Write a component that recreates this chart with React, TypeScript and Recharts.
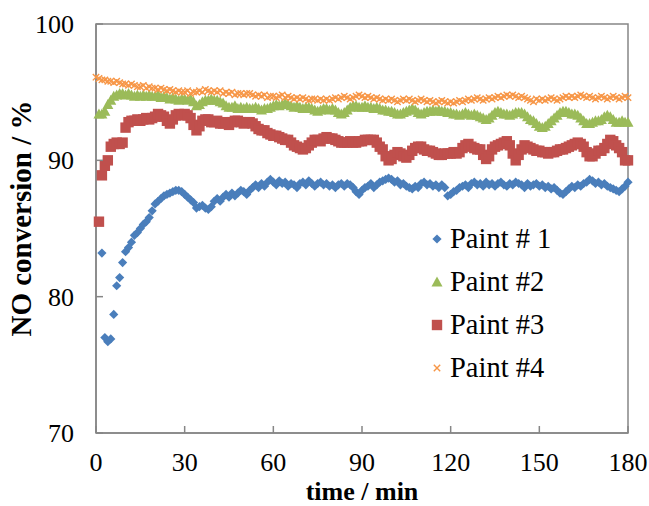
import React from "react";
import { ScatterChart, Scatter, XAxis, YAxis, ReferenceArea, Label } from "recharts";

// NO conversion (%) sampled once per minute, t = 0 .. 180; null = no reading
const paint1 = [
  null, null, 83.2, 77.0, 76.7, 76.9, 78.7, 80.8, 81.4, 82.5,
  83.3, 83.6, 84.0, 84.5, 84.7, 85.0, 85.3, 85.5, 85.8, 86.3,
  86.8, 87.0, 87.2, 87.4, 87.5, 87.6, 87.7, 87.8, 87.8, 87.7,
  87.5, 87.3, 87.1, 86.9, 86.5, 86.6, 86.7, 86.5, 86.4, 86.6,
  87.0, 87.2, 87.0, 87.3, 87.5, 87.3, 87.6, 87.4, 87.6, 87.8,
  87.7, 87.5, 87.8, 88.0, 88.2, 88.0, 88.3, 88.1, 88.4, 88.6,
  88.4, 88.2, 88.5, 88.3, 88.4, 88.1, 88.3, 88.2, 88.0, 88.3,
  88.4, 88.2, 88.5, 88.3, 88.1, 88.3, 88.4, 88.2, 88.3, 88.1,
  88.2, 88.0, 88.2, 88.3, 88.1, 88.3, 88.2, 88.0, 87.7, 87.5,
  87.8, 88.0, 88.1, 88.3, 88.0, 88.2, 88.4, 88.5, 88.6, 88.7,
  88.6, 88.4, 88.5, 88.2, 88.3, 88.1, 88.0, 87.9, 88.1, 88.0,
  88.3, 88.4, 88.2, 88.3, 88.1, 88.2, 88.0, 88.2, 88.0, 87.4,
  87.5, 87.7, 87.8, 88.0, 88.1, 88.2, 88.0, 88.3, 88.4, 88.2,
  88.3, 88.1, 88.4, 88.2, 88.3, 88.1, 88.3, 88.4, 88.2, 88.1,
  88.3, 88.2, 88.4, 88.3, 88.2, 88.0, 88.3, 88.1, 88.2, 88.3,
  88.1, 88.2, 88.0, 88.1, 87.9, 88.0, 87.8, 87.6, 87.5, 87.7,
  87.9, 88.1, 88.0, 88.2, 88.1, 88.3, 88.4, 88.6, 88.5, 88.3,
  88.4, 88.2, 88.3, 88.1, 88.0, 87.9, 87.8, 87.7, 87.9, 88.1,
  88.4,
];

const paint2 = [
  null, 93.4, 93.4, 93.6, 94.1, 94.4, 94.7, 94.8, 94.9, 94.9,
  94.8, 94.9, 94.8, 94.7, 94.8, 94.7, 94.8, 94.7, 94.8, 94.7,
  94.7, 94.8, 94.6, 94.7, 94.6, 94.5, 94.6, 94.5, 94.4, 94.5,
  94.5, 94.4, 94.5, 94.3, 94.0, 94.1, 94.3, 94.4, 94.4, 94.5,
  94.4, 94.4, 94.3, 94.2, 94.0, 93.9, 93.9, 94.0, 93.8, 93.9,
  93.8, 93.9, 93.8, 93.8, 93.9, 93.8, 93.7, 93.8, 93.8, 93.9,
  94.0, 94.1, 94.0, 94.1, 94.2, 94.1, 94.0, 93.9, 94.0, 93.9,
  93.8, 93.9, 93.9, 93.8, 93.7, 93.6, 93.7, 93.8, 93.8, 93.7,
  93.8, 93.7, 93.5, 93.4, 93.5, 93.7, 93.9, 94.0, 94.0, 93.9,
  93.9, 94.0, 93.9, 93.9, 93.8, 93.9, 93.8, 93.7, 93.7, 93.6,
  93.6, 93.5, 93.4, 93.4, 93.5, 93.6, 93.7, 93.8, 93.7, 93.5,
  93.4, 93.5, 93.6, 93.6, 93.7, 93.6, 93.7, 93.6, 93.6, 93.5,
  93.5, 93.4, 93.4, 93.3, 93.4, 93.5, 93.4, 93.3, 93.4, 93.3,
  93.2, 93.1, 93.0, 93.1, 93.3, 93.5, 93.6, 93.5, 93.4, 93.4,
  93.3, 93.4, 93.5, 93.5, 93.5, 93.4, 93.2, 93.0, 92.9, 92.7,
  92.5, 92.4, 92.5, 92.7, 92.9, 93.1, 93.3, 93.5, 93.6, 93.6,
  93.5, 93.4, 93.4, 93.3, 93.1, 92.9, 92.7, 92.7, 92.8, 92.9,
  92.9, 93.0, 93.2, 93.3, 93.2, 93.0, 92.8, 92.8, 92.9, 92.8,
  92.8,
];

const paint3 = [
  null, 85.5, 88.9, 89.6, 90.0, 91.0, 91.2, 91.3, 91.2, 91.3,
  92.4, 92.8, 92.9, 92.9, 93.0, 92.9, 93.0, 93.1, 93.0, 93.1,
  93.2, 93.4, 93.3, 93.2, 92.9, 92.7, 93.0, 93.3, 93.4, 93.3,
  93.4, 93.3, 93.1, 92.6, 92.2, 92.5, 92.9, 93.0, 93.0, 92.8,
  92.8, 92.9, 92.7, 92.7, 92.8, 92.6, 92.8, 92.9, 92.9, 92.8,
  92.7, 92.8, 92.8, 92.7, 92.5, 92.3, 92.2, 92.2, 92.0, 91.9,
  91.8, 91.8, 91.7, 91.6, 91.5, 91.5, 91.3, 91.1, 91.0, 90.9,
  90.8, 90.9, 91.1, 91.3, 91.5, 91.5, 91.4, 91.6, 91.7, 91.6,
  91.6, 91.5, 91.4, 91.3, 91.3, 91.3, 91.4, 91.3, 91.3, 91.4,
  91.4, 91.5, 91.5, 91.5, 91.5, 91.3, 91.0, 90.8, 90.3, 90.0,
  90.1, 90.4, 90.6, 90.5, 90.3, 90.2, 90.4, 90.7, 90.9, 91.0,
  91.0, 90.8, 90.7, 90.7, 90.6, 90.5, 90.4, 90.4, 90.5, 90.5,
  90.5, 90.6, 90.5, 90.6, 90.9, 91.1, 91.2, 91.0, 90.9, 90.8,
  90.8, 90.4, 90.1, 90.3, 90.8, 91.0, 91.1, 91.2, 91.3, 91.4,
  91.1, 90.5, 90.0, 90.4, 90.8, 91.1, 91.0, 90.9, 90.8, 90.7,
  90.7, 90.6, 90.6, 90.5, 90.6, 90.6, 90.7, 90.8, 90.8, 90.9,
  91.0, 91.1, 91.2, 91.3, 91.2, 91.0, 90.6, 90.3, 90.3, 90.5,
  90.7, 90.7, 90.9, 91.2, 91.5, 91.4, 91.1, 90.9, 90.6, 90.0,
  90.0,
];

const paint4 = [
  96.1, 96.0, 95.9, 95.9, 95.8, 95.8, 95.7, 95.8, 95.7, 95.6,
  95.6, 95.5, 95.6, 95.5, 95.4, 95.4, 95.5, 95.3, 95.4, 95.3,
  95.3, 95.2, 95.3, 95.2, 95.1, 95.2, 95.1, 95.0, 95.1, 95.0,
  95.0, 95.1, 94.9, 95.0, 95.0, 95.1, 95.0, 95.2, 95.1, 95.0,
  95.1, 95.0, 95.1, 94.9, 95.0, 94.9, 95.0, 94.8, 94.9, 94.9,
  94.8, 94.9, 94.9, 94.8, 94.7, 94.8, 94.7, 94.8, 94.6, 94.7,
  94.7, 94.6, 94.7, 94.8, 94.6, 94.7, 94.6, 94.5, 94.6, 94.5,
  94.6, 94.5, 94.4, 94.5, 94.5, 94.4, 94.5, 94.4, 94.5, 94.4,
  94.5, 94.6, 94.5, 94.6, 94.7, 94.6, 94.5, 94.6, 94.7, 94.8,
  94.7, 94.6, 94.7, 94.6, 94.5, 94.6, 94.5, 94.4, 94.5, 94.4,
  94.5, 94.4, 94.3, 94.4, 94.5, 94.4, 94.5, 94.4, 94.3, 94.4,
  94.5, 94.4, 94.3, 94.4, 94.3, 94.2, 94.3, 94.4, 94.3, 94.2,
  94.3, 94.2, 94.3, 94.4, 94.3, 94.4, 94.5, 94.4, 94.5, 94.6,
  94.5, 94.4, 94.5, 94.6, 94.5, 94.6, 94.7, 94.6, 94.7, 94.8,
  94.7, 94.8, 94.7, 94.6, 94.7, 94.6, 94.5, 94.4, 94.3, 94.5,
  94.4, 94.5, 94.4, 94.5, 94.6, 94.5, 94.4, 94.5, 94.6, 94.7,
  94.6, 94.7, 94.6, 94.7, 94.8, 94.7, 94.6, 94.7, 94.6, 94.5,
  94.6, 94.7, 94.6, 94.5, 94.6, 94.7, 94.6, 94.5, 94.6, 94.7,
  94.6,
];

const STEP_MIN = 1;
const xTicks = [0, 30, 60, 90, 120, 150, 180];
const yTicks = [70, 80, 90, 100];
const seriesNames = ["Paint # 1", "Paint #2", "Paint #3", "Paint #4"];
const seriesColors = ["#4a7ebb", "#9bbb59", "#c0504d", "#f79646"];

const FONT = "'Liberation Serif', 'Times New Roman', serif";
const AXIS = "#868686";

const toRows = (vals: (number | null)[]) =>
  vals
    .map((v, i) => ({ t: i * STEP_MIN, v }))
    .filter((r) => r.v !== null);

function Diamond({ cx, cy, fill }: any) {
  const r = 4.6;
  return <polygon points={`${cx},${cy - r} ${cx + r},${cy} ${cx},${cy + r} ${cx - r},${cy}`} fill={fill} />;
}
function Triangle({ cx, cy, fill }: any) {
  return <polygon points={`${cx},${cy - 5.5} ${cx + 5.5},${cy + 4.5} ${cx - 5.5},${cy + 4.5}`} fill={fill} />;
}
function Square({ cx, cy, fill }: any) {
  return <rect x={cx - 5.2} y={cy - 5.2} width={10.4} height={10.4} fill={fill} />;
}
function Cross({ cx, cy, fill }: any) {
  const r = 3.2;
  return (
    <path
      d={`M${cx - r},${cy - r}L${cx + r},${cy + r}M${cx - r},${cy + r}L${cx + r},${cy - r}`}
      stroke={fill}
      strokeWidth={1.4}
    />
  );
}
const shapes = [Diamond, Triangle, Square, Cross];

const X_GAP = 38; // axis line to tick label baseline
const Y_GAP = 22; // axis line to tick label right edge

function XTick({ x, y, payload }: any) {
  const axisY = y - X_GAP;
  return (
    <g>
      <line x1={x} x2={x} y1={axisY} y2={axisY - 7} stroke={AXIS} strokeWidth={1.5} />
      <text x={x} y={y} textAnchor="middle" fontFamily={FONT} fontSize={26} fill="#000">
        {payload.value}
      </text>
    </g>
  );
}

function YTick({ x, y, payload }: any) {
  const axisX = x + Y_GAP;
  return (
    <g>
      <line x1={axisX} x2={axisX + 7} y1={y} y2={y} stroke={AXIS} strokeWidth={1.5} />
      <text x={x} y={y + 9} textAnchor="end" fontFamily={FONT} fontSize={26} fill="#000">
        {payload.value}
      </text>
    </g>
  );
}

function LegendBox() {
  return (
    <svg width={210} height={180} style={{ position: "absolute", left: 420, top: 217 }}>
      {seriesNames.map((name, i) => {
        const Shape = shapes[i];
        const cy = 22 + i * 43;
        return (
          <g key={name}>
            <Shape cx={17} cy={cy} fill={seriesColors[i]} />
            <text x={30} y={cy + 9} fontFamily={FONT} fontSize={28.5} fill="#000">
              {name}
            </text>
          </g>
        );
      })}
    </svg>
  );
}

export default function App() {
  const series = [paint1, paint2, paint3, paint4];
  return (
    <div style={{ position: "absolute", left: 0, top: 0, width: 649, height: 506, background: "#fff" }}>
      <ScatterChart width={649} height={506} margin={{ top: 24, right: 21, bottom: 0, left: 0 }}>
        <XAxis
          type="number"
          dataKey="t"
          domain={[0, 180]}
          ticks={xTicks}
          interval={0}
          height={73}
          tickSize={0}
          tickMargin={X_GAP}
          tickLine={false}
          axisLine={{ stroke: AXIS, strokeWidth: 1.5 }}
          tick={<XTick />}
        >
          <Label
            content={({ viewBox }: any) => (
              <text
                x={viewBox.x + viewBox.width / 2}
                y={500}
                textAnchor="middle"
                fontFamily={FONT}
                fontWeight="bold"
                fontSize={26}
                fill="#000"
              >
                time / min
              </text>
            )}
          />
        </XAxis>
        <YAxis
          type="number"
          dataKey="v"
          domain={[70, 100]}
          ticks={yTicks}
          interval={0}
          width={96}
          tickSize={0}
          tickMargin={Y_GAP}
          tickLine={false}
          axisLine={{ stroke: AXIS, strokeWidth: 1.5 }}
          tick={<YTick />}
        >
          <Label
            content={({ viewBox }: any) => {
              const cy = viewBox.y + viewBox.height / 2 - 10;
              return (
                <text
                  x={31}
                  y={cy}
                  transform={`rotate(-90, 31, ${cy})`}
                  textAnchor="middle"
                  fontFamily={FONT}
                  fontWeight="bold"
                  fontSize={29}
                  fill="#000"
                >
                  NO conversion / %
                </text>
              );
            }}
          />
        </YAxis>
        <ReferenceArea x1={0} x2={180} y1={70} y2={100} fill="none" stroke={AXIS} strokeWidth={1.5} />
        {series.map((vals, i) => (
          <Scatter
            key={seriesNames[i]}
            name={seriesNames[i]}
            data={toRows(vals)}
            fill={seriesColors[i]}
            shape={shapes[i]}
            isAnimationActive={false}
          />
        ))}
      </ScatterChart>
      <LegendBox />
    </div>
  );
}
